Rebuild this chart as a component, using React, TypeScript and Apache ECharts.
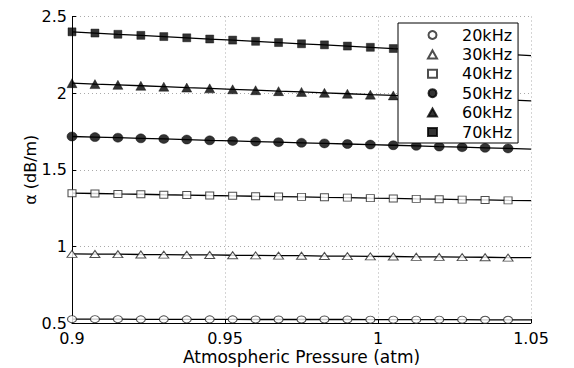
import React, { useEffect, useRef } from 'react';
import * as echarts from 'echarts';

const PRESSURE = [0.9, 0.9075, 0.915, 0.9225, 0.93, 0.9375, 0.945, 0.9525, 0.96, 0.9675, 0.975, 0.9825, 0.99, 0.9975, 1.005, 1.0125, 1.02, 1.0275, 1.035, 1.0425];
const PRESSURE_END = 1.05;
const NAMES = ['20kHz', '30kHz', '40kHz', '50kHz', '60kHz', '70kHz'];
const A20 = [0.525, 0.525, 0.525, 0.524, 0.524, 0.524, 0.524, 0.524, 0.523, 0.523, 0.523, 0.523, 0.523, 0.522, 0.522, 0.522, 0.522, 0.522, 0.521, 0.521];
const A30 = [0.951, 0.950, 0.949, 0.947, 0.946, 0.945, 0.944, 0.942, 0.941, 0.940, 0.939, 0.937, 0.936, 0.935, 0.934, 0.932, 0.931, 0.930, 0.929, 0.927];
const A40 = [1.347, 1.345, 1.342, 1.340, 1.337, 1.335, 1.332, 1.330, 1.327, 1.325, 1.323, 1.320, 1.318, 1.315, 1.313, 1.310, 1.308, 1.305, 1.303, 1.300];
const A50 = [1.717, 1.713, 1.709, 1.705, 1.701, 1.697, 1.692, 1.688, 1.684, 1.680, 1.676, 1.672, 1.668, 1.664, 1.660, 1.656, 1.651, 1.647, 1.643, 1.639];
const A60 = [2.065, 2.059, 2.054, 2.048, 2.042, 2.036, 2.031, 2.025, 2.019, 2.013, 2.008, 2.002, 1.996, 1.990, 1.985, 1.979, 1.973, 1.967, 1.962, 1.956];
const A70 = [2.400, 2.392, 2.384, 2.377, 2.369, 2.361, 2.353, 2.346, 2.338, 2.330, 2.322, 2.315, 2.307, 2.299, 2.291, 2.284, 2.276, 2.268, 2.260, 2.253];
const END_VALUES = [0.521, 0.926, 1.298, 1.635, 1.950, 2.245];
const VALUES = [A20, A30, A40, A50, A60, A70];

const STYLES = [
  { symbol: 'circle', filled: false, size: [9, 7] },
  { symbol: 'triangle', filled: false, size: [10, 7] },
  { symbol: 'rect', filled: false, size: [8, 7] },
  { symbol: 'circle', filled: true, size: [10, 9] },
  { symbol: 'triangle', filled: true, size: [10, 9] },
  { symbol: 'rect', filled: true, size: [8, 8] },
];

const FONT = 'DejaVu Sans';

export default function App() {
  const ref = useRef<HTMLDivElement>(null);
  useEffect(() => {
    const chart = echarts.init(ref.current!, null, { renderer: 'svg' });
    const lineSeries = VALUES.map((vals, i) => ({
      name: 'line-' + NAMES[i],
      type: 'line',
      data: [...PRESSURE.map((p, j) => [p, vals[j]]), [PRESSURE_END, END_VALUES[i]]],
      symbol: 'none',
      silent: true,
      lineStyle: { color: '#000', width: 1.3 },
      z: 2,
    }));
    const markerSeries = VALUES.map((vals, i) => ({
      name: NAMES[i],
      type: 'scatter',
      data: PRESSURE.map((p, j) => [p, vals[j]]),
      symbol: STYLES[i].symbol,
      symbolSize: STYLES[i].size,
      itemStyle: STYLES[i].filled
        ? { color: '#000', borderColor: '#000', borderWidth: 0.5 }
        : { color: '#fff', borderColor: '#222', borderWidth: 1 },
      z: 3,
    }));
    chart.setOption({
      animation: false,
      backgroundColor: '#fff',
      textStyle: { fontFamily: FONT },
      grid: { left: 72, right: 43, top: 16.5, bottom: 45, outerBoundsMode: 'none' },
      legend: {
        data: NAMES,
        orient: 'vertical',
        left: 398,
        top: 23,
        padding: [4, 6, 3, 29],
        itemWidth: 9,
        itemHeight: 8,
        itemGap: 3.4,
        borderColor: '#000',
        borderWidth: 1,
        backgroundColor: '#fff',
        textStyle: { fontFamily: FONT, fontSize: 16, color: '#000', padding: [0, 0, 0, 20] },
        z: 10,
      },
      xAxis: {
        type: 'value',
        min: 0.9,
        max: 1.05,
        interval: 0.05,
        name: 'Atmospheric Pressure (atm)',
        nameLocation: 'middle',
        nameGap: 25,
        nameMoveOverlap: false,
        nameTextStyle: { fontFamily: FONT, fontSize: 17, color: '#000' },
        axisLine: { show: true, lineStyle: { color: '#000', width: 1 } },
        axisTick: { show: true, inside: true, length: 4, lineStyle: { color: '#000' } },
        axisLabel: { margin: 7.5, fontFamily: FONT, fontSize: 16, color: '#000' },
        splitLine: { show: true, lineStyle: { color: '#aaa', type: [1, 3], width: 1 } },
      },
      yAxis: {
        type: 'value',
        min: 0.5,
        max: 2.5,
        interval: 0.5,
        name: 'α (dB/m)',
        nameLocation: 'middle',
        nameGap: 34,
        nameMoveOverlap: false,
        nameTextStyle: { fontFamily: FONT, fontSize: 16, color: '#000' },
        axisLine: { show: true, lineStyle: { color: '#000', width: 1 } },
        axisTick: { show: true, inside: true, length: 4, lineStyle: { color: '#000' } },
        axisLabel: { margin: 5, fontFamily: FONT, fontSize: 16, color: '#000' },
        splitLine: { show: true, lineStyle: { color: '#aaa', type: [1, 3], width: 1 } },
      },
      series: [...lineSeries, ...markerSeries],
    });
    return () => chart.dispose();
  }, []);
  return (
    <div
      ref={ref}
      style={{ position: 'fixed', left: 0, top: 0, width: 574, height: 368, background: '#fff' }}
    />
  );
}
